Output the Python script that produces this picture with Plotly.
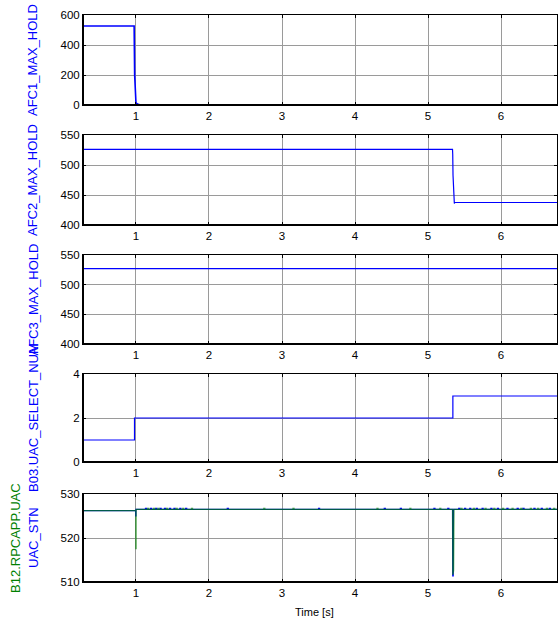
import plotly.graph_objects as go

# ---------------- data ----------------
x_range = [0.2746, 6.766]
x_ticks = [1, 2, 3, 4, 5, 6]

afc1_t = [0.27, 0.975, 0.982, 0.99, 1.0, 1.02, 1.05, 6.77]
afc1_v = [527, 527, 200, 25, 14, 6, 2, 2]

afc2_t = [0.27, 5.335, 5.338, 5.342, 5.36, 5.365, 6.77]
afc2_v = [526, 526, 518, 483, 436, 437.5, 437.5]

afc3_t = [0.27, 6.77]
afc3_v = [527, 527]

sel_t = [0.27, 0.98, 0.98, 5.34, 5.34, 6.77]
sel_v = [1, 1, 2, 2, 3, 3]

# UAC_STN (blue) and B12.RPCAPP.UAC (green): base level, dips and small upward blips
stn_t = [0.27, 0.995, 0.995, 1.0, 1.0, 5.335, 5.338, 5.345, 5.348, 6.77]
stn_v = [526.2, 526.2, 525.0, 525.0, 526.5, 526.5, 511.4, 511.4, 526.5, 526.5]
stn_blip_t = [1.13, 1.2, 1.27, 1.33, 1.39, 1.46, 1.52, 1.6, 1.68, 2.25, 3.5, 4.4,
              4.62, 5.08, 5.27, 5.42, 5.5, 5.57, 5.66, 5.74, 5.86, 5.95, 6.08,
              6.22, 6.3, 6.45, 6.55, 6.66]

rpc_t = [0.27, 0.998, 0.998, 1.002, 1.002, 5.336, 5.339, 5.35, 5.355, 6.77]
rpc_v = [526.2, 526.2, 517.6, 517.6, 526.5, 526.5, 511.6, 512.5, 526.5, 526.5]
rpc_blip_t = [1.16, 1.24, 1.3, 1.42, 1.55, 1.64, 1.76, 2.75, 3.15, 4.3, 4.75,
              5.16, 5.45, 5.62, 5.78, 5.9, 6.02, 6.15, 6.27, 6.4, 6.5, 6.62, 6.72]
blip_level = 526.75
blip_width = 0.015

ylabels = ["AFC1_MAX_HOLD", "AFC2_MAX_HOLD", "AFC3_MAX_HOLD", "B03.UAC_SELECT_NUM"]
ylabel5 = ["B12.RPCAPP.UAC", "UAC_STN"]
x_title = "Time [s]"

y_ranges = [[0, 600], [400, 550], [400, 550], [0, 4], [510, 530]]
y_ticks = [[0, 200, 400, 600], [400, 450, 500, 550], [400, 450, 500, 550],
           [0, 2, 4], [510, 520, 530]]

BLUE = "#0000ff"
GREEN = "#008000"


def with_blips(t, v, blips, base, level, w):
    pts = list(zip(t, v))
    for b in blips:
        pts += [(b, base), (b + 1e-4, level), (b + w, level), (b + w + 1e-4, base)]
    pts.sort(key=lambda p: p[0])
    return [p[0] for p in pts], [p[1] for p in pts]


stn_x, stn_y = with_blips(stn_t, stn_v, stn_blip_t, 526.5, blip_level, blip_width)
rpc_x, rpc_y = with_blips(rpc_t, rpc_v, rpc_blip_t, 526.5, blip_level, blip_width)

# ---------------- layout geometry ----------------
W, H = 558, 621
ml, mr, mt, mb = 83, 1, 15, 39
ph = H - mt - mb
panels_px = [(15, 105), (135, 225), (255, 344), (374, 462), (494, 582)]
domains = [[(582 - b) / ph, (582 - t) / ph] for t, b in panels_px]

fig = go.Figure()
series = [
    [(afc1_t, afc1_v, BLUE, 1, 1.6)],
    [(afc2_t, afc2_v, BLUE, 1, 1.2)],
    [(afc3_t, afc3_v, BLUE, 1, 1.2)],
    [(sel_t, sel_v, BLUE, 1, 1.2)],
    [(stn_x, stn_y, BLUE, 1, 1.2), (rpc_x, rpc_y, GREEN, 0.7, 1.2)],
]

tickfont = dict(family="Liberation Sans, Arial, sans-serif", size=11.5, color="black")
shapes = []
for i, ser in enumerate(series):
    n = i + 1
    xa = "x" if n == 1 else f"x{n}"
    ya = "y" if n == 1 else f"y{n}"
    for (tx, vy, col, op, lw) in ser:
        fig.add_trace(go.Scatter(x=tx, y=vy, mode="lines", xaxis=xa, yaxis=ya,
                                 line=dict(color=col, width=lw), opacity=op,
                                 showlegend=False, hoverinfo="skip"))
    ax_common = dict(showline=True, linecolor="black", linewidth=1, mirror="ticks",
                     ticks="inside", ticklen=3, tickcolor="black", tickwidth=1,
                     showgrid=True, gridcolor="#9a9a9a", gridwidth=1,
                     zeroline=False, tickfont=tickfont)
    fig.layout[f"xaxis{'' if n == 1 else n}"] = dict(
        ax_common, domain=[0, 1], range=x_range, tickvals=x_ticks,
        anchor=ya)
    fig.layout[f"yaxis{'' if n == 1 else n}"] = dict(
        ax_common, domain=domains[i], range=y_ranges[i], tickvals=y_ticks[i],
        anchor=xa)
    # thicker bottom and left box edges
    shapes.append(dict(type="line", xref=f"{xa} domain", yref=f"{ya} domain",
                       x0=0, x1=1, y0=0, y1=0, line=dict(color="black", width=2),
                       layer="above"))
    shapes.append(dict(type="line", xref=f"{xa} domain", yref=f"{ya} domain",
                       x0=0, x1=0, y0=0, y1=1, line=dict(color="black", width=2),
                       layer="above"))

annots = []
lab_font = dict(family="Liberation Sans, Arial, sans-serif", size=13)
x_blue = (33 - ml) / (W - ml - mr)
x_green = (15 - ml) / (W - ml - mr)
for i, lab in enumerate(ylabels):
    yc = (domains[i][0] + domains[i][1]) / 2
    annots.append(dict(text=lab, xref="paper", yref="paper", x=x_blue, y=yc,
                       textangle=-90, showarrow=False, xanchor="center", yanchor="middle",
                       font=dict(lab_font, color=BLUE)))
yc5 = (domains[4][0] + domains[4][1]) / 2
annots.append(dict(text=ylabel5[0], xref="paper", yref="paper", x=x_green, y=yc5,
                   textangle=-90, showarrow=False, xanchor="center", yanchor="middle",
                   font=dict(lab_font, color=GREEN)))
annots.append(dict(text=ylabel5[1], xref="paper", yref="paper", x=x_blue, y=yc5,
                   textangle=-90, showarrow=False, xanchor="center", yanchor="middle",
                   font=dict(lab_font, color=BLUE)))
annots.append(dict(text=x_title, xref="paper", yref="paper",
                   x=(314 - ml) / (W - ml - mr), y=(582 - 612) / ph,
                   showarrow=False, xanchor="center", yanchor="middle",
                   font=dict(family="Liberation Sans, Arial, sans-serif", size=11, color="black")))

fig.update_layout(width=W, height=H, margin=dict(l=ml, r=mr, t=mt, b=mb, pad=0),
                  paper_bgcolor="white", plot_bgcolor="white",
                  shapes=shapes, annotations=annots)

fig.write_html("out.html", config={"displayModeBar": False},
               post_script="document.body.style.margin='0';document.body.style.overflow='hidden';")
